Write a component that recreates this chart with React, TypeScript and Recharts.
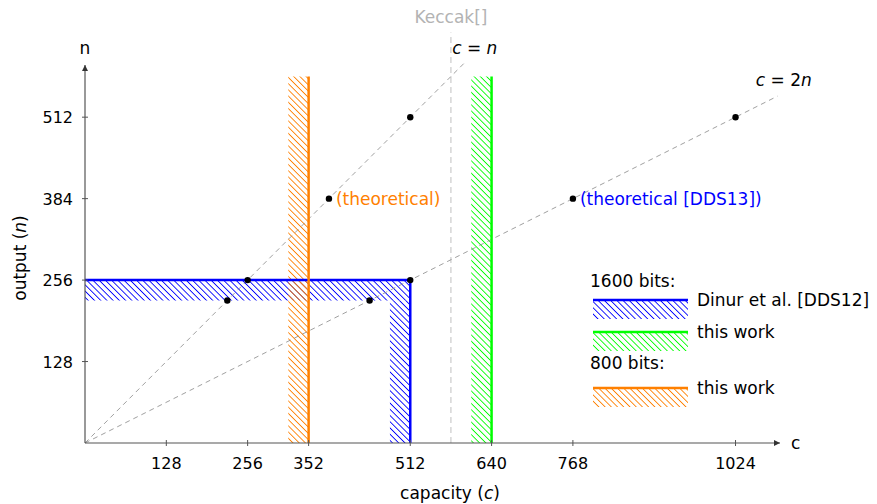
import React from 'react'
import {
  ComposedChart,
  XAxis,
  YAxis,
  Scatter,
  ReferenceLine,
  ReferenceArea,
  ReferenceDot,
  Legend
} from 'recharts'

const FONT = '"DejaVu Sans", sans-serif'
const AXIS = '#555'
const DASH = '#888'
const BLUE = '#0000ff'
const ORANGE = '#ff8000'
const GREEN = '#00ff00'

// axis values
const xTicks = [128, 256, 352, 512, 640, 768, 1024]
const yTicks = [128, 256, 384, 512]
const xMax = 1094
const yMax = 594

// attack points on c = n and on c = 2n
const equalPoints = [
  { c: 224, n: 224 },
  { c: 256, n: 256 },
  { c: 384, n: 384 },
  { c: 512, n: 512 }
]
const doublePoints = [
  { c: 448, n: 224 },
  { c: 512, n: 256 },
  { c: 768, n: 384 },
  { c: 1024, n: 512 }
]

// dashed guide lines
const equalLine = [{ x: 0, y: 0 }, { x: 600, y: 600 }]
const doubleLine = [{ x: 0, y: 0 }, { x: 1090, y: 545 }]
const keccakLine = [{ x: 576, y: 0 }, { x: 576, y: 645 }]

// reachable regions (hatched) and their borders
const dinurAreas = [
  { x1: 0, x2: 512, y1: 224, y2: 256 },
  { x1: 480, x2: 512, y1: 0, y2: 224 }
]
const dinurEdges = [
  [{ x: 0, y: 256 }, { x: 512, y: 256 }],
  [{ x: 512, y: 0 }, { x: 512, y: 256 }]
]
const work800Area = { x1: 320, x2: 352, y1: 0, y2: 576 }
const work800Edge = [{ x: 352, y: 0 }, { x: 352, y: 576 }]
const work1600Area = { x1: 608, x2: 640, y1: 0, y2: 576 }
const work1600Edge = [{ x: 640, y: 0 }, { x: 640, y: 576 }]

type Part = { t: string; i?: boolean }

// text notes placed in data coordinates
const notes: { c: number; n: number; parts: Part[]; color: string; anchor: string; dx: number }[] = [
  { c: 576, n: 669, parts: [{ t: 'Keccak[]' }], color: '#b3b3b3', anchor: 'middle', dx: 0 },
  { c: 578, n: 620, parts: [{ t: 'c', i: true }, { t: ' = ' }, { t: 'n', i: true }], color: '#000', anchor: 'start', dx: 0 },
  { c: 1100, n: 570, parts: [{ t: 'c', i: true }, { t: ' = 2' }, { t: 'n', i: true }], color: '#000', anchor: 'middle', dx: 0 },
  { c: 384, n: 384, parts: [{ t: '(theoretical)' }], color: ORANGE, anchor: 'start', dx: 7 },
  { c: 768, n: 384, parts: [{ t: '(theoretical [DDS13])' }], color: BLUE, anchor: 'start', dx: 7 }
]

const renderParts = (parts: Part[]) =>
  parts.map((p, k) => (
    <tspan key={k} fontStyle={p.i ? 'italic' : 'normal'}>
      {p.t}
    </tspan>
  ))

const Hatch = ({ id, color }: { id: string; color: string }) => (
  <pattern id={id} patternUnits="userSpaceOnUse" width="4.4" height="4.4" patternTransform="rotate(45)">
    <line x1="0" y1="0.5" x2="4.4" y2="0.5" stroke={color} strokeWidth="1.2" shapeRendering="crispEdges" />
  </pattern>
)

const XTick = ({ x, y, payload }: any) => (
  <g>
    <line x1={x} x2={x} y1={y - 3} y2={y + 3} stroke={AXIS} strokeWidth={1} />
    <text x={x} y={y + 26} textAnchor="middle" fontFamily={FONT} fontSize={16} fill="#000">
      {payload.value}
    </text>
  </g>
)

const YTick = ({ x, y, payload }: any) => (
  <g>
    <line x1={x - 3} x2={x + 3} y1={y} y2={y} stroke={AXIS} strokeWidth={1} />
    <text x={x - 12} y={y + 6} textAnchor="end" fontFamily={FONT} fontSize={16} fill="#000">
      {payload.value}
    </text>
  </g>
)

const LegendBox = () => {
  const rows = [
    { color: BLUE, label: 'Dinur et al. [DDS12]', y: 32, id: 'lg-blue' },
    { color: GREEN, label: 'this work', y: 64, id: 'lg-green' },
    { color: ORANGE, label: 'this work', y: 120, id: 'lg-orange' }
  ]
  return (
    <svg width={292} height={150} style={{ overflow: 'visible' }}>
      <defs>
        {rows.map(r => (
          <Hatch key={r.id} id={r.id} color={r.color} />
        ))}
      </defs>
      <text x={5} y={19} fontFamily={FONT} fontSize={17} fill="#000">1600 bits:</text>
      <text x={5} y={101} fontFamily={FONT} fontSize={17} fill="#000">800 bits:</text>
      {rows.map(r => (
        <g key={r.id}>
          <rect x={8} y={r.y} width={95} height={19} fill={`url(#${r.id})`} />
          <line x1={8} x2={103} y1={r.y} y2={r.y} stroke={r.color} strokeWidth={2.5} />
          <text x={112} y={r.y + 6} fontFamily={FONT} fontSize={17} fill="#000">
            {r.label}
          </text>
        </g>
      ))}
    </svg>
  )
}

const App = () => {
  return (
    <div style={{ position: 'absolute', left: 0, top: 0, width: 877, height: 504, background: '#fff' }}>
      <ComposedChart width={877} height={504} margin={{ top: 65, right: 97, bottom: 0, left: 0 }}>
        <defs>
          <Hatch id="hatch-blue" color={BLUE} />
          <Hatch id="hatch-orange" color={ORANGE} />
          <Hatch id="hatch-green" color={GREEN} />
        </defs>

        <XAxis
          type="number"
          dataKey="c"
          domain={[0, xMax]}
          ticks={xTicks}
          interval={0}
          allowDataOverflow
          height={61}
          tickSize={0}
          tickMargin={0}
          tickLine={false}
          axisLine={{ stroke: AXIS, strokeWidth: 1.2 }}
          tick={<XTick />}
          label={(props: any) => {
            const vb = props.viewBox
            return (
              <text x={vb.x + 365} y={vb.y + 56} textAnchor="middle" fontFamily={FONT} fontSize={17} fill="#000">
                capacity (<tspan fontStyle="italic">c</tspan>)
              </text>
            )
          }}
        />
        <YAxis
          type="number"
          dataKey="n"
          domain={[0, yMax]}
          ticks={yTicks}
          interval={0}
          allowDataOverflow
          width={85}
          tickSize={0}
          tickMargin={0}
          tickLine={false}
          axisLine={{ stroke: AXIS, strokeWidth: 1.2 }}
          tick={<YTick />}
          label={(props: any) => {
            const vb = props.viewBox
            const cy = vb.y + vb.height / 2 + 4
            return (
              <text
                x={26}
                y={cy}
                textAnchor="middle"
                transform={`rotate(-90, 26, ${cy})`}
                fontFamily={FONT}
                fontSize={17}
                fill="#000"
              >
                output (<tspan fontStyle="italic">n</tspan>)
              </text>
            )
          }}
        />

        {/* hatched regions */}
        {dinurAreas.map((a, k) => (
          <ReferenceArea key={`da${k}`} {...a} fill="url(#hatch-blue)" fillOpacity={1} stroke="none" ifOverflow="visible" />
        ))}
        <ReferenceArea {...work800Area} fill="url(#hatch-orange)" fillOpacity={1} stroke="none" ifOverflow="visible" />
        <ReferenceArea {...work1600Area} fill="url(#hatch-green)" fillOpacity={1} stroke="none" ifOverflow="visible" />

        {/* guide lines */}
        <ReferenceLine segment={keccakLine} stroke="#c0c0c0" strokeDasharray="6 4" strokeWidth={1} ifOverflow="visible" />
        <ReferenceLine segment={equalLine} stroke={DASH} strokeDasharray="5 4" strokeWidth={0.8} ifOverflow="visible" />
        <ReferenceLine segment={doubleLine} stroke={DASH} strokeDasharray="5 4" strokeWidth={0.8} ifOverflow="visible" />

        {/* region borders */}
        {dinurEdges.map((s, k) => (
          <ReferenceLine key={`de${k}`} segment={s} stroke={BLUE} strokeWidth={2.5} ifOverflow="visible" />
        ))}
        <ReferenceLine segment={work800Edge} stroke={ORANGE} strokeWidth={2.5} ifOverflow="visible" />
        <ReferenceLine segment={work1600Edge} stroke={GREEN} strokeWidth={2.5} ifOverflow="visible" />

        <Scatter
          data={equalPoints}
          isAnimationActive={false}
          shape={(p: any) => <circle cx={p.cx} cy={p.cy} r={3.2} fill="#000" />}
        />
        <Scatter
          data={doublePoints}
          isAnimationActive={false}
          shape={(p: any) => <circle cx={p.cx} cy={p.cy} r={3.2} fill="#000" />}
        />

        {notes.map((nt, k) => (
          <ReferenceDot
            key={`nt${k}`}
            x={nt.c}
            y={nt.n}
            ifOverflow="visible"
            shape={(p: any) => (
              <text
                x={p.cx + nt.dx}
                y={p.cy}
                dy="0.35em"
                textAnchor={nt.anchor}
                fontFamily={FONT}
                fontSize={17}
                fill={nt.color}
              >
                {renderParts(nt.parts)}
              </text>
            )}
          />
        ))}

        {/* axis arrow heads with axis names */}
        <ReferenceDot
          x={xMax}
          y={0}
          ifOverflow="visible"
          shape={(p: any) => (
            <g>
              <path d={`M${p.cx - 6},${p.cy - 3} L${p.cx},${p.cy} L${p.cx - 6},${p.cy + 3} Z`} fill="#333" />
              <text x={p.cx + 11} y={p.cy} dy="0.35em" fontFamily={FONT} fontSize={17} fill="#000">c</text>
            </g>
          )}
        />
        <ReferenceDot
          x={0}
          y={yMax}
          ifOverflow="visible"
          shape={(p: any) => (
            <g>
              <path d={`M${p.cx - 3},${p.cy + 6} L${p.cx},${p.cy} L${p.cx + 3},${p.cy + 6} Z`} fill="#333" />
              <text x={p.cx} y={p.cy - 11} textAnchor="middle" fontFamily={FONT} fontSize={17} fill="#000">n</text>
            </g>
          )}
        />

        <Legend
          layout="vertical"
          align="center"
          verticalAlign="middle"
          content={() => <LegendBox />}
          wrapperStyle={{ left: 585, top: 268, width: 292, height: 150 }}
        />
      </ComposedChart>
    </div>
  )
}

export default App
